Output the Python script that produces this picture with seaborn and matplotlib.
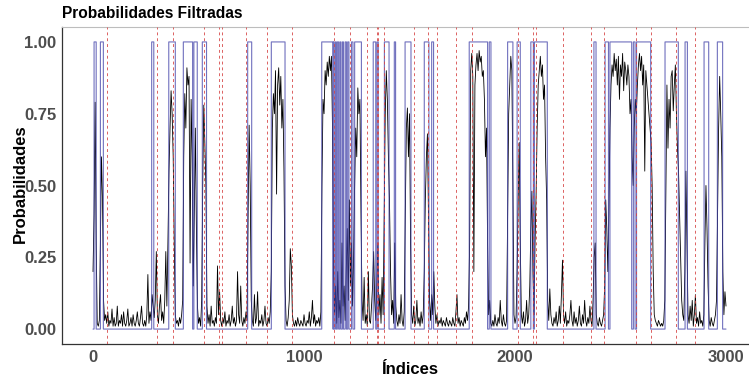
import numpy as np
import pandas as pd
import matplotlib
matplotlib.use("Agg")
import matplotlib.pyplot as plt
import seaborn as sns

# ---------------- data ----------------
step = 5  # black series sampled every 5 indices, values in percent
prob_pct_a = [  # indices 0 .. 995
    20,40,79,30,2,1,3,30,60,45,10,3,5,2,6,1,3,2,7,1,
    4,1,2,8,1,3,2,5,1,6,2,1,3,7,1,2,4,1,5,2,
    1,3,6,2,1,4,8,2,1,3,1,5,19,2,6,3,12,8,4,10,
    27,5,2,8,12,3,6,2,10,27,8,30,55,70,83,75,60,30,5,2,
    3,1,4,2,5,10,60,82,70,91,85,88,23,80,60,15,40,70,35,8,
    2,4,1,10,50,78,65,50,8,2,5,1,8,2,3,1,4,2,22,5,
    13,3,1,4,2,6,1,3,2,5,1,3,8,2,4,1,3,20,5,2,
    15,3,1,4,2,6,3,40,71,50,10,3,1,12,2,4,13,1,3,2,
    5,1,3,8,2,1,4,2,6,20,70,82,75,90,47,85,91,78,88,70,
    80,55,15,3,1,4,10,28,22,5,2,1,3,1,4,2,1,3,2,1,
]
prob_pct_b = [  # indices 1000 .. 1995
    5,2,1,3,2,6,1,4,10,2,5,1,3,2,4,1,6,50,80,75,
    90,85,93,88,95,90,95,70,20,5,15,2,20,4,10,2,30,8,15,3,
    20,35,10,45,15,30,8,25,50,70,60,84,75,80,40,10,3,18,2,5,
    1,20,3,2,8,15,27,10,3,15,30,5,12,2,18,5,40,75,90,80,
    60,45,20,5,10,2,30,8,3,1,5,2,12,3,1,6,40,70,77,60,
    75,30,5,2,8,1,3,10,2,4,1,6,2,5,20,45,60,68,40,10,
    3,12,5,20,8,2,5,1,3,2,4,1,3,2,1,4,2,1,3,2,
    1,4,2,1,6,12,2,4,1,3,2,1,4,2,6,3,8,30,90,96,
    88,20,85,92,96,90,97,93,95,88,90,80,60,70,30,5,10,2,1,3,
    1,5,2,1,4,2,10,3,1,5,2,1,3,40,75,85,95,90,50,5,
]
prob_pct_c = [  # indices 2000 .. 3000
    2,4,20,45,65,30,5,2,6,1,3,10,2,5,15,35,48,20,5,30,
    47,70,85,90,95,88,92,80,85,60,45,10,3,14,5,2,1,4,2,6,
    1,3,8,2,12,24,5,2,6,1,3,2,5,10,3,1,6,2,4,1,
    3,8,2,1,5,2,10,3,1,4,2,8,3,1,10,25,30,5,2,1,
    4,2,1,3,5,15,45,35,20,40,70,85,92,88,96,90,94,85,95,80,
    92,88,96,83,93,90,85,92,88,75,80,60,50,70,80,75,85,92,96,90,
    95,85,92,55,90,85,80,75,70,65,50,20,5,3,2,1,3,2,1,2,
    1,3,10,47,85,63,80,70,88,90,76,85,92,75,63,55,40,25,10,5,
    3,20,55,30,5,2,8,3,10,1,5,12,2,4,1,6,2,3,1,5,
    30,50,35,15,3,1,4,2,1,3,5,10,40,70,88,75,60,20,5,13,
    8,
]

# regime (blue step) : intervals where the state equals 1
regime_start = [5,35,278,359,428,478,518,733,845,1084,1139,1148,1158,1170,1182,1195,
                1207,1225,1240,1328,1346,1381,1428,1479,1570,1605,1783,1878,1965,2010,
                2075,2092,2374,2427,2450,2561,2576,2711,2806,2896,2959]
regime_end = [15,49,288,390,472,494,538,752,910,1137,1142,1153,1164,1175,1187,1201,
              1213,1232,1272,1340,1352,1403,1434,1507,1592,1614,1870,1886,1990,2025,
              2087,2153,2384,2443,2553,2569,2643,2774,2817,2918,2984]

# red dashed vertical lines
break_points = [65,302,381,526,599,611,727,826,941,1144,1216,1297,1348,1352,1380,
                1523,1589,1632,1722,1795,2015,2087,2100,2226,2362,2421,2573,2643,2762,2855]

n_obs = 3000

# ---------------- build frames ----------------
prob = np.array(prob_pct_a + prob_pct_b + prob_pct_c, dtype=float) / 100.0
df_prob = pd.DataFrame({"idx": np.arange(len(prob)) * step, "p": prob})

idx_all = np.arange(0, n_obs + 1)
state = np.zeros_like(idx_all, dtype=float)
for s, e in zip(regime_start, regime_end):
    state[(idx_all >= s) & (idx_all < e)] = 1.0
df_state = pd.DataFrame({"idx": idx_all, "s": state})

# ---------------- plot ----------------
sns.set_theme(style="white")
plt.rcParams["font.family"] = ["Liberation Sans", "DejaVu Sans"]

W, H = 749, 380
fig = plt.figure(figsize=(W / 100, H / 100), dpi=100)
ax = fig.add_axes([62 / W, 36 / H, (W - 62) / W, 317 / H])

sns.lineplot(data=df_prob, x="idx", y="p", ax=ax, color="black", lw=0.6,
             estimator=None, sort=False, zorder=2)
sns.lineplot(data=df_state, x="idx", y="s", ax=ax, color="#4040a8", lw=0.8,
             alpha=0.75, estimator=None, sort=False, drawstyle="steps-post", zorder=3)
for b in break_points:
    ax.axvline(b, color="#d64545", lw=0.7, ls=(0, (3, 3)), alpha=0.85, zorder=4)

ax.set_xlim(-147, 3109)
ax.set_ylim(-0.052, 1.052)
ax.set_xticks([0, 1000, 2000, 3000])
ax.set_yticks([0, 0.25, 0.5, 0.75, 1.0])
ax.set_yticklabels(["0.00", "0.25", "0.50", "0.75", "1.00"])
ax.set_xlabel("")
ax.set_ylabel("")
ax.tick_params(axis="both", which="both", length=3, width=0.8, color="#333333",
               labelcolor="#4d4d4d", labelsize=12, direction="out", pad=1)
for lab in ax.get_xticklabels() + ax.get_yticklabels():
    lab.set_fontweight("bold")
ax.spines["right"].set_visible(False)
ax.spines["top"].set_color("#bdbdbd")
ax.spines["top"].set_linewidth(0.8)
for sp in ("left", "bottom"):
    ax.spines[sp].set_color("#333333")
    ax.spines[sp].set_linewidth(0.9)
ax.set_facecolor("white")

fig.text(62 / W, 1 - 14 / H, "Probabilidades Filtradas", fontsize=11.2,
         fontweight="bold", ha="left", va="center", color="black")
fig.text(20 / W, 1 - 184 / H, "Probabilidades", fontsize=12, fontweight="bold",
         rotation=90, ha="center", va="center", color="black")
fig.text(410 / W, 1 - 370 / H, "Índices", fontsize=12, fontweight="bold",
         ha="center", va="center", color="black")

fig.savefig("out.png", dpi=100)
